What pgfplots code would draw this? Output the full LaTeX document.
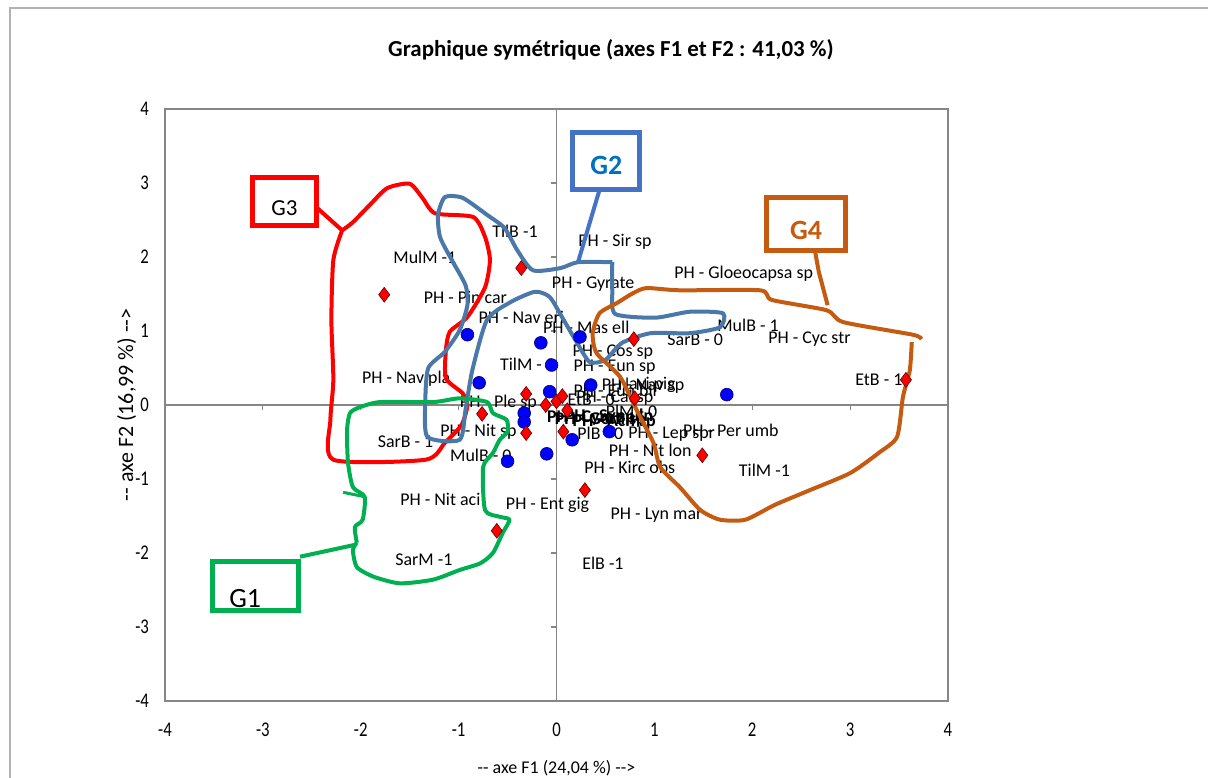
\documentclass[border=0pt]{standalone}
\usepackage{pgfplots}
\pgfplotsset{compat=1.18}
\usepackage{fontspec}
\setmainfont{Carlito}
\newfontfamily\narrowfont{Carlito}[FakeStretch=0.8]
\definecolor{framegray}{HTML}{868686}
\definecolor{gone}{HTML}{00B050}
\definecolor{gtwo}{HTML}{4A78A8}
\definecolor{gtwobox}{HTML}{4472C4}
\definecolor{gtwotext}{HTML}{0070C0}
\definecolor{gthree}{HTML}{FF0000}
\definecolor{gfour}{HTML}{C55A11}
\begin{document}
\begin{tikzpicture}[font=\fontsize{9}{10}\selectfont]
\begin{axis}[
  scale only axis, width=391.5bp, height=296bp,
  xmin=-4, xmax=4, ymin=-4, ymax=4,
  axis line style={framegray, line width=0.6bp},
  xtick={-4,-3,-2,-1,0,1,2,3,4}, ytick={-4,-3,-2,-1,0,1,2,3,4},
  xticklabels={-4,-3,-2,-1,0,1,2,3,4},
  yticklabels={-4,-3,-2,-1,0,1,2,3,4},
  major tick length=0pt,
  tick label style={font=\narrowfont\fontsize{10.5}{11}\selectfont},
  xticklabel shift=7.5bp, yticklabel shift=4.5bp,
  xlabel={-{}- axe F1 (24,04 \%) -{}->},
  ylabel={-{}- axe F2 (16,99 \%) -{}->},
  xlabel style={at={(axis description cs:0.5,-0.113)}, anchor=center, font=\fontsize{9}{10}\selectfont},
  ylabel style={at={(axis description cs:-0.049,0.5)}, anchor=center, font=\fontsize{11}{12}\selectfont},
  clip=false,
]
% central axes with their small tick marks
\draw[framegray, line width=0.6bp] (axis cs:-4,0) -- (axis cs:4,0);
\draw[framegray, line width=0.6bp] (axis cs:0,-4) -- (axis cs:0,4);
\pgfplotsinvokeforeach{-3,-2,-1,1,2,3}{
  \draw[framegray, line width=0.6bp] (axis cs:#1,0) -- ++(0pt,-2.5bp);
  \draw[framegray, line width=0.6bp] (axis cs:0,#1) -- ++(-2.5bp,0pt);
}

% observations (blue) and variables (red)
\addplot[only marks, mark=*, mark size=3.2bp,
  mark options={fill=blue, draw=blue!45!black, line width=0.3bp}] coordinates {
  (-0.91,0.95) (-0.16,0.84) (0.24,0.92) (-0.05,0.54) (-0.79,0.30)
  (-0.07,0.18) (0.35,0.27) (-0.33,-0.11) (-0.33,-0.23) (0.16,-0.47)
  (-0.10,-0.66) (-0.50,-0.76) (0.54,-0.36) (1.74,0.14)
};
\addplot[only marks, mark=diamond*, mark size=3.7bp,
  mark options={fill=red, draw=red!35!black, line width=0.3bp}] coordinates {
  (-1.76,1.49) (-0.36,1.85) (0.79,0.89) (3.57,0.34) (1.49,-0.68)
  (0.29,-1.15) (-0.61,-1.70) (-0.76,-0.12) (-0.31,0.15) (-0.11,0.00)
  (0.00,0.05) (0.06,0.12) (0.11,-0.07) (-0.31,-0.38) (0.07,-0.36)
  (0.80,0.09)
};

% point labels
\begin{scope}[every node/.style={anchor=west, inner sep=0pt}]
\node at (axis cs:-0.66,2.35) {TilB -1};
\node at (axis cs:-1.67,1.99) {MulM -1};
\node at (axis cs:0.22,2.20) {PH - Sir sp};
\node at (axis cs:-0.05,1.64) {PH - Gyrate};
\node at (axis cs:1.20,1.78) {PH - Gloeocapsa sp};
\node at (axis cs:-1.36,1.46) {PH - Pin car};
\node at (axis cs:-0.80,1.19) {PH - Nav eri};
\node at (axis cs:-0.14,1.05) {PH - Mas ell};
\node at (axis cs:1.64,1.07) {MulB - 1};
\node at (axis cs:1.13,0.88) {SarB - 0};
\node at (axis cs:2.16,0.89) {PH - Cyc str};
\node at (axis cs:0.16,0.72) {PH - Cos sp};
\node at (axis cs:-0.58,0.55) {TilM - 0};
\node at (axis cs:0.17,0.51) {PH - Eun sp};
\node at (axis cs:-1.99,0.36) {PH - Nav pla};
\node at (axis cs:3.05,0.34) {EtB - 1};
\node at (axis cs:0.17,0.20) {PH - Eun bil};
\node at (axis cs:0.46,0.25) {PH - Nav sp};
\node at (axis cs:0.62,0.27) {Navi pig};
\node at (axis cs:-0.99,0.03) {PH - Ple sp};
\node at (axis cs:0.11,0.07) {EtB - 0};
\node at (axis cs:0.20,0.10) {PH - Cal sp};
\node at (axis cs:0.50,-0.08) {PlM - 0};
\node[font=\fontsize{9}{10}\selectfont\bfseries] at (axis cs:-0.10,-0.18) {PH - Cym sp};
\node[font=\fontsize{9}{10}\selectfont\bfseries] at (axis cs:-0.02,-0.20) {PH - Gom sp};
\node[font=\fontsize{9}{10}\selectfont\bfseries] at (axis cs:0.08,-0.16) {PH - Syn uln};
\node[font=\fontsize{9}{10}\selectfont\bfseries] at (axis cs:0.16,-0.22) {PH - Ach sp};
\node at (axis cs:0.21,-0.38) {PlB - 0};
\node at (axis cs:0.73,-0.39) {PH - Lep spr};
\node at (axis cs:1.29,-0.34) {PH - Per umb};
\node at (axis cs:-1.19,-0.36) {PH - Nit sp};
\node at (axis cs:-1.83,-0.50) {SarB - 1};
\node at (axis cs:-1.09,-0.68) {MulB - 0};
\node at (axis cs:0.53,-0.61) {PH - Nit lon};
\node at (axis cs:0.28,-0.84) {PH - Kirc obs};
\node at (axis cs:1.86,-0.88) {TilM -1};
\node at (axis cs:-1.60,-1.28) {PH - Nit aci};
\node at (axis cs:-0.52,-1.35) {PH - Ent gig};
\node at (axis cs:0.55,-1.49) {PH - Lyn mar};
\node at (axis cs:-1.65,-2.09) {SarM -1};
\node at (axis cs:0.26,-2.14) {ElB -1};
\end{scope}

% group G3 (red)
\addplot[gthree, line width=2bp, smooth, tension=0.4, line join=round] coordinates {
  (-2.19,2.36) (-2.08,2.47) (-1.91,2.70) (-1.73,2.93) (-1.50,2.99) (-1.37,2.80)
  (-1.24,2.59) (-0.85,2.54) (-0.73,2.27) (-0.68,1.96) (-0.73,1.59) (-0.91,1.19)
  (-1.09,0.99) (-1.13,0.74) (-1.13,0.36) (-0.96,0.16) (-0.91,0.00) (-0.97,-0.27)
  (-1.14,-0.51) (-1.34,-0.74) (-2.28,-0.74) (-2.31,-0.20) (-2.28,0.34)
  (-2.30,1.15) (-2.28,1.96) (-2.19,2.36)
};
\addplot[gthree, line width=2bp] coordinates {(-2.46,2.68) (-2.19,2.36)};
\draw[gthree, line width=2.5bp] (axis cs:-3.11,2.42) rectangle (axis cs:-2.45,3.07);
\node[font=\fontsize{11.5}{12}\selectfont] at (axis cs:-2.78,2.66) {G3};

% group G2 (blue)
\addplot[gtwo, line width=2bp, smooth, tension=0.4, line join=round] coordinates {
  (0.57,1.93) (0.22,1.93) (0.04,1.85) (-0.24,1.82) (-0.40,2.09) (-0.53,2.39)
  (-0.71,2.57) (-0.96,2.80) (-1.14,2.81) (-1.21,2.57) (-1.19,2.27) (-1.07,1.96)
  (-0.93,1.62) (-0.91,1.35) (-0.99,1.01) (-1.14,0.72) (-1.31,0.50) (-1.34,0.07)
  (-1.32,-0.43) (-0.99,-0.47) (-0.93,-0.07) (-0.86,0.47) (-0.71,1.15)
  (-0.47,1.39) (-0.22,1.53) (-0.07,1.46) (0.06,1.18) (0.21,0.84) (0.34,0.58)
  (0.50,0.61) (0.67,0.84) (0.96,0.97) (1.36,0.97) (1.67,1.05) (1.70,1.24)
  (1.36,1.26) (1.01,1.18) (0.60,1.23) (0.57,1.55) (0.57,1.93)
};
\addplot[gtwobox, line width=2bp] coordinates {(0.44,2.91) (0.22,1.93)};
\draw[gtwobox, line width=2.5bp] (axis cs:0.16,2.91) rectangle (axis cs:0.85,3.68);
\node[font=\fontsize{14}{15}\selectfont\bfseries, text=gtwotext] at (axis cs:0.51,3.24) {G2};

% group G4 (orange)
\addplot[gfour, line width=2bp, smooth, tension=0.4, line join=round] coordinates {
  (3.73,0.89) (3.64,0.95) (2.93,1.12) (2.76,1.28) (2.20,1.42) (2.08,1.55)
  (1.26,1.55) (0.92,1.58) (0.78,1.51) (0.62,1.38) (0.44,1.24) (0.37,0.97)
  (0.41,0.70) (0.65,0.38) (0.82,-0.07) (0.99,-0.51) (1.06,-0.84) (1.26,-1.11)
  (1.47,-1.42) (1.67,-1.55) (1.93,-1.55) (2.23,-1.35) (2.59,-1.15) (3.00,-0.92)
  (3.30,-0.64) (3.48,-0.43) (3.54,0.11) (3.61,0.47) (3.63,0.85)
};
\addplot[gfour, line width=2bp] coordinates {(2.64,2.09) (2.68,1.80) (2.77,1.35)};
\draw[gfour, line width=2.5bp] (axis cs:2.15,2.09) rectangle (axis cs:2.95,2.80);
\node[font=\fontsize{14}{15}\selectfont\bfseries, text=gfour] at (axis cs:2.55,2.36) {G4};

% group G1 (green)
\addplot[gone, line width=2bp, smooth, tension=0.4, line join=round] coordinates {
  (-2.04,-1.86) (-2.06,-1.65) (-1.98,-1.55) (-1.96,-1.24) (-2.08,-1.11)
  (-2.13,-0.78) (-2.14,-0.34) (-2.11,-0.11) (-2.01,-0.03) (-1.80,0.04)
  (-1.26,0.04) (-0.99,0.09) (-0.71,0.04) (-0.65,-0.11) (-0.51,-0.20)
  (-0.50,-0.36) (-0.58,-0.47) (-0.65,-0.65) (-0.75,-0.84) (-0.73,-1.42)
  (-0.58,-1.51) (-0.48,-1.55) (-0.55,-1.73) (-0.65,-2.00) (-0.78,-2.14)
  (-0.99,-2.23) (-1.26,-2.36) (-1.60,-2.41) (-1.87,-2.32) (-2.04,-2.19)
  (-2.08,-1.96) (-2.04,-1.86)
};
\addplot[gone, line width=2bp] coordinates {(-2.62,-2.05) (-2.06,-1.89)};
\addplot[gone, line width=1.5bp] coordinates {(-2.18,-1.18) (-1.96,-1.24)};
\draw[gone, line width=2.5bp] (axis cs:-3.51,-2.78) rectangle (axis cs:-2.64,-2.11);
\node[font=\fontsize{14}{15}\selectfont] at (axis cs:-3.18,-2.61) {G1};
\end{axis}
% chart title and chart-area border
\node[font=\fontsize{11.5}{12}\selectfont\bfseries] at (223bp,325.5bp)
  {Graphique symétrique (axes F1 et F2 : 41,03 \%)};
\draw[gray!60, line width=0.75bp] (-77.5bp,-38.5bp) -- (-77.5bp,346.5bp) -- (521.5bp,346.5bp);
\pgfresetboundingbox
\path[use as bounding box] (-82.5bp,-38.5bp) rectangle (521.5bp,350.5bp);
\end{tikzpicture}
\end{document}
